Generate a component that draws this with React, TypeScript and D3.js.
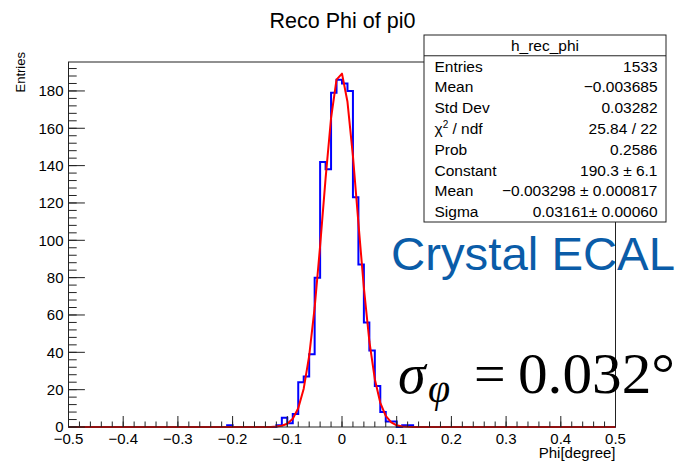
import React from "react";
import * as d3 from "d3";

// Histogram h_rec_phi: 100 bins over [-0.5, 0.5]; counts listed from the first filled bin onward
const HIST_MIN = -0.5;
const HIST_MAX = 0.5;
const BIN_WIDTH = 0.01;
const filledFrom = -0.21;
const binCounts = [
  1, 0, 0, 0, 0, 0, 0, 0, 0, 1, 5, 2, 7, 24, 27, 39, 80, 142, 138, 179, 186,
  184, 180, 123, 87, 56, 41, 22, 8, 3, 3, 0, 1, 1,
];

// Gaussian fit parameters
const fitConstant = 190.3;
const fitMean = -0.003298;
const fitSigma = 0.03161;

// Stats box rows
const statsTitle = "h_rec_phi";
const statsLabels = ["Entries", "Mean", "Std Dev", "CHI", "Prob", "Constant", "Mean", "Sigma"];
const statsValues = [
  "1533",
  "\u22120.003685",
  "0.03282",
  "25.84 / 22",
  "0.2586",
  "190.3 \u00b1 6.1",
  "\u22120.003298 \u00b1 0.000817",
  "0.03161\u00b1 0.00060",
];

const xMajorTicks = [-0.5, -0.4, -0.3, -0.2, -0.1, 0, 0.1, 0.2, 0.3, 0.4, 0.5];
const yMajorTicks = [0, 20, 40, 60, 80, 100, 120, 140, 160, 180];

const W = 679;
const H = 465;
const frame = { left: 68.5, right: 615.5, top: 62, bottom: 427 };
const Y_MAX = 195.5;
const FONT = "'Liberation Sans', Arial, Helvetica, sans-serif";
const SERIF = "'Liberation Serif', 'Times New Roman', serif";

const fmtTick = (v: number) => {
  const s = Math.abs(v) < 1e-9 ? "0" : d3.format(".1f")(v);
  return s.replace("-", "\u2212");
};

export default function App() {
  const x = d3.scaleLinear().domain([HIST_MIN, HIST_MAX]).range([frame.left, frame.right]);
  const y = d3.scaleLinear().domain([0, Y_MAX]).range([frame.bottom, frame.top]);

  // Full 100-bin content array
  const nBins = Math.round((HIST_MAX - HIST_MIN) / BIN_WIDTH);
  const firstIdx = Math.round((filledFrom - HIST_MIN) / BIN_WIDTH);
  const content = d3.range(nBins).map((i) => {
    const k = i - firstIdx;
    return k >= 0 && k < binCounts.length ? binCounts[k] : 0;
  });

  // Step outline of the histogram
  const stepPts: [number, number][] = [];
  content.forEach((c, i) => {
    const lo = HIST_MIN + i * BIN_WIDTH;
    const hi = lo + BIN_WIDTH;
    stepPts.push([x(lo), y(c)]);
    stepPts.push([x(hi), y(c)]);
  });
  const histPath = d3.line()(stepPts) ?? "";

  // Fit function drawn with 100 segments across the axis range
  const gauss = (v: number) => fitConstant * Math.exp(-0.5 * ((v - fitMean) / fitSigma) ** 2);
  const fitPts: [number, number][] = d3
    .range(nBins + 1)
    .map((i) => HIST_MIN + i * BIN_WIDTH)
    .map((v) => [x(v), y(gauss(v))]);
  const fitPath = d3.line()(fitPts) ?? "";

  const xMinor = d3.range(HIST_MIN, HIST_MAX + 1e-9, 0.02);
  const yMinor = d3.range(0, Y_MAX, 4);

  const box = { left: 424, right: 666, top: 35, bottom: 222 };
  const rowH = (box.bottom - box.top) / (statsLabels.length + 1);

  return (
    <svg
      width={W}
      height={H}
      style={{ position: "absolute", left: 0, top: 0, background: "#fff" }}
      fontFamily={FONT}
    >
      <rect x={0} y={0} width={W} height={H} fill="#fff" />

      {/* title */}
      <text x={342.5} y={28.3} textAnchor="middle" fontSize={21.5} fill="#000">
        Reco Phi of pi0
      </text>

      {/* histogram and fit */}
      <path d={histPath} fill="none" stroke="#0000ff" strokeWidth={2} />
      <path d={fitPath} fill="none" stroke="#ff0000" strokeWidth={2} strokeLinejoin="round" />

      {/* frame */}
      <rect
        x={frame.left}
        y={frame.top}
        width={frame.right - frame.left}
        height={frame.bottom - frame.top}
        fill="none"
        stroke="#222"
        strokeWidth={1}
      />

      {/* x axis ticks */}
      {xMinor.map((v, i) => (
        <line key={"xm" + i} x1={x(v)} x2={x(v)} y1={frame.bottom} y2={frame.bottom - 5.5} stroke="#222" />
      ))}
      {xMajorTicks.map((v) => (
        <g key={"xM" + v}>
          <line x1={x(v)} x2={x(v)} y1={frame.bottom} y2={frame.bottom - 11} stroke="#222" />
          <text x={x(v)} y={443.5} textAnchor="middle" fontSize={15} fill="#000">
            {fmtTick(v)}
          </text>
        </g>
      ))}
      <text x={frame.right} y={458} textAnchor="end" fontSize={15} fill="#000">
        Phi[degree]
      </text>

      {/* y axis ticks */}
      {yMinor.map((v, i) => (
        <line key={"ym" + i} x1={frame.left} x2={frame.left + 8.2} y1={y(v)} y2={y(v)} stroke="#222" />
      ))}
      {yMajorTicks.map((v) => (
        <g key={"yM" + v}>
          <line x1={frame.left} x2={frame.left + 16.4} y1={y(v)} y2={y(v)} stroke="#222" />
          <text x={63.5} y={y(v) + 5.3} textAnchor="end" fontSize={15} fill="#000">
            {v}
          </text>
        </g>
      ))}
      <text
        transform={`translate(24.5, 52) rotate(-90)`}
        textAnchor="end"
        fontSize={13}
        fill="#000"
      >
        Entries
      </text>

      {/* stats box */}
      <rect
        x={box.left}
        y={box.top}
        width={box.right - box.left}
        height={box.bottom - box.top}
        fill="#fff"
        stroke="#222"
        strokeWidth={1}
      />
      <line x1={box.left} x2={box.right} y1={box.top + rowH} y2={box.top + rowH} stroke="#222" />
      <text x={(box.left + box.right) / 2} y={box.top + rowH / 2 + 5.5} textAnchor="middle" fontSize={15.5} fill="#000">
        {statsTitle}
      </text>
      {statsLabels.map((lab, i) => {
        const cy = box.top + rowH * (i + 1.5) + 5.5;
        return (
          <g key={"s" + i}>
            <text x={434.5} y={cy} fontSize={15.5} fill="#000">
              {lab === "CHI" ? (
                <>
                  {"\u03c7"}
                  <tspan fontSize={10} dy={-6}>
                    2
                  </tspan>
                  <tspan dy={6}>{" / ndf"}</tspan>
                </>
              ) : (
                lab
              )}
            </text>
            <text x={657.5} y={cy} textAnchor="end" fontSize={15.5} fill="#000">
              {statsValues[i]}
            </text>
          </g>
        );
      })}

      {/* annotations */}
      <text x={391} y={270} fontSize={46.5} fill="#0a5ca8" textLength={284} lengthAdjust="spacingAndGlyphs">
        Crystal ECAL
      </text>
      <text x={398} y={393} fontFamily={SERIF} fontSize={56} fontStyle="italic" fill="#000">
        {"\u03c3"}
      </text>
      <text x={428} y={402} fontFamily={SERIF} fontSize={40} fontStyle="italic" fill="#000">
        {"\u03c6"}
      </text>
      <text x={474} y={393} fontFamily={SERIF} fontSize={56} fill="#000">
        =
      </text>
      <text x={518} y={393} fontFamily={SERIF} fontSize={56} fill="#000" textLength={157} lengthAdjust="spacingAndGlyphs">
        0.032°
      </text>
    </svg>
  );
}
